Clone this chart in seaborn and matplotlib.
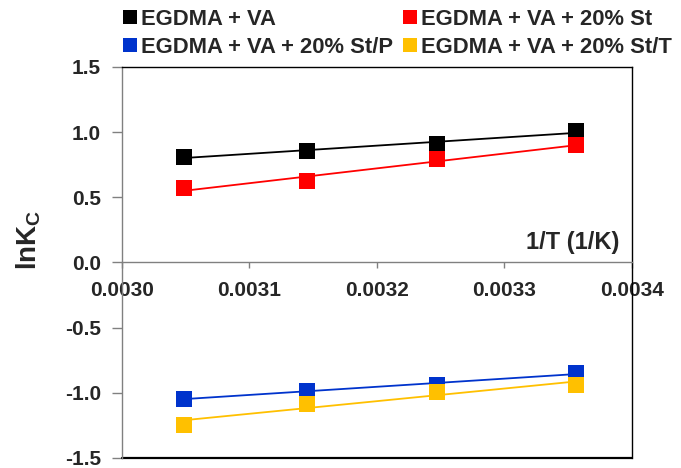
import matplotlib
matplotlib.use("Agg")
import matplotlib.pyplot as plt
import seaborn as sns
import numpy as np
import pandas as pd
from matplotlib.lines import Line2D

inv_T = [0.003049, 0.003145, 0.003247, 0.003356]
series_names = ["EGDMA + VA", "EGDMA + VA + 20% St",
                "EGDMA + VA + 20% St/P", "EGDMA + VA + 20% St/T"]
lnkc_black = [0.813, 0.856, 0.907, 1.009]
lnkc_red = [0.568, 0.626, 0.792, 0.900]
lnkc_blue = [-1.045, -0.985, -0.938, -0.848]
lnkc_yellow = [-1.244, -1.082, -0.990, -0.942]
colors = ["#000000", "#FF0000", "#0033CC", "#FFC000"]
y_ticks = [-1.5, -1.0, -0.5, 0.0, 0.5, 1.0, 1.5]
x_ticks = [0.0030, 0.0031, 0.0032, 0.0033, 0.0034]

sns.set_style("white")
plt.rcParams["font.family"] = ["Liberation Sans", "DejaVu Sans"]
plt.rcParams["font.weight"] = "bold"
plt.rcParams["mathtext.fontset"] = "custom"
plt.rcParams["mathtext.rm"] = "Liberation Sans"
plt.rcParams["mathtext.bf"] = "Liberation Sans:bold"

rows = []
for name, vals in zip(series_names, [lnkc_black, lnkc_red, lnkc_blue, lnkc_yellow]):
    for x, y in zip(inv_T, vals):
        rows.append({"series": name, "invT": x, "lnKc": y})
df = pd.DataFrame(rows)

fig = plt.figure(figsize=(6.81, 4.68), dpi=100)
ax = fig.add_axes([122/681, 1-458/468, 510/681, 391/468])

for i, (name, col) in enumerate(zip(series_names, colors)):
    sub = df[df["series"] == name]
    sns.regplot(data=sub, x="invT", y="lnKc", ax=ax, ci=None, truncate=True,
                marker="s",
                scatter_kws=dict(s=140, color=col, zorder=3 + i, linewidths=0,
                                 alpha=1.0),
                line_kws=dict(color=col, lw=1.3, zorder=2))

ax.set_xlim(0.0030, 0.0034)
ax.set_ylim(-1.5, 1.5)
ax.set_xticks(x_ticks)
ax.set_xticklabels([f"{v:.4f}" for v in x_ticks])
ax.set_yticks(y_ticks)
ax.set_yticklabels([f"{v:.1f}" for v in y_ticks])
ax.set_xlabel("")
ax.set_ylabel("")

ax.spines["bottom"].set_position(("data", 0))
ax.spines["bottom"].set_color("#808080")
ax.spines["left"].set_color("#808080")
ax.spines["top"].set_color("#000000")
ax.spines["right"].set_color("#000000")
for s in ax.spines.values():
    s.set_linewidth(1.0)
ax.axhline(-1.5, color="#000000", lw=1.6, clip_on=False, zorder=1)

ax.tick_params(axis="y", direction="out", length=7, width=1, color="#808080",
               pad=8, labelsize=15, left=True)
ax.tick_params(axis="x", direction="out", length=4, width=1, color="#808080",
               pad=9, labelsize=15, bottom=True)
for lab in ax.get_xticklabels() + ax.get_yticklabels():
    lab.set_fontweight("bold")

ax.text(0.976, 0.552, "1/T (1/K)", transform=ax.transAxes, ha="right",
        va="center", fontsize=17, fontweight="bold")
fig.text(29/681, 1-240/468, r"$\mathbf{lnK_C}$", rotation=90, ha="center",
         va="center", fontsize=20)

order = [0, 2, 1, 3]
handles = [Line2D([], [], marker="s", linestyle="none", markersize=9.5,
                  markerfacecolor=colors[i], markeredgewidth=0) for i in order]
labels = [series_names[i] for i in order]
leg = fig.legend(handles, labels, ncol=2, loc="upper left",
                 bbox_to_anchor=(122/681, 1-9/468), frameon=False,
                 prop=dict(size=15.8, weight="bold"), handlelength=0.7,
                 handletextpad=0.15, columnspacing=0.45, labelspacing=0.3,
                 borderpad=0, borderaxespad=0)

fig.savefig("out.png", dpi=100)
